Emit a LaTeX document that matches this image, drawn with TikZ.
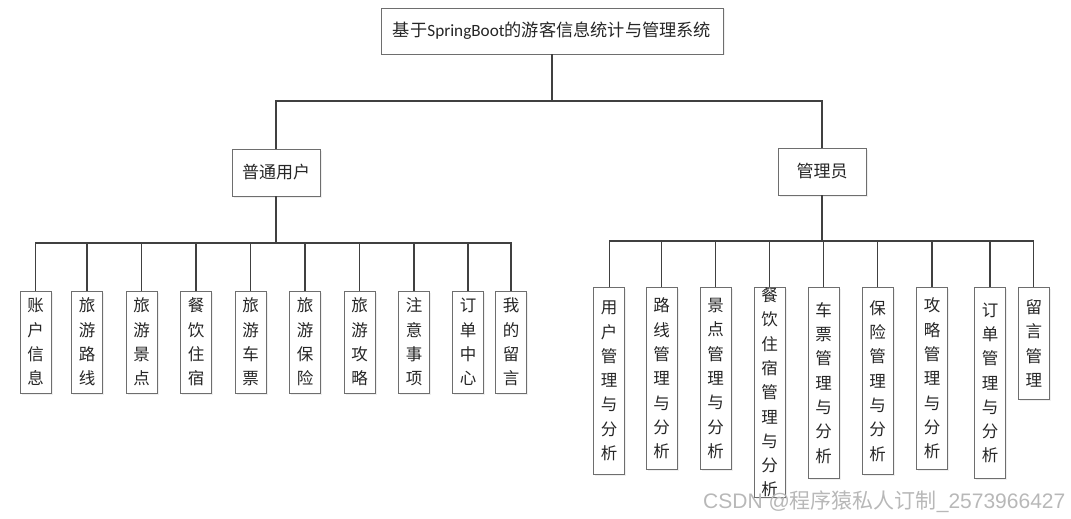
\documentclass[tikz,border=0pt]{standalone}
\usepackage{fontspec}
\usepackage{tikz}
\usepackage{xcolor}
\usetikzlibrary{shadows}
\newfontfamily\cjk{Noto Sans CJK SC}
\newfontfamily\calibri{Carlito}
\newfontfamily\arial{Liberation Sans}
\definecolor{linegray}{HTML}{404040}
\definecolor{boxgray}{HTML}{6E6E6E}
\tikzset{
  box/.style={draw=boxgray, line width=0.9pt, fill=white, inner sep=0pt, text=black!85,
    drop shadow={shadow xshift=1.5pt, shadow yshift=-1.5pt, fill=black!12}},
  hbox/.style={box, minimum width=88pt, minimum height=47pt, font=\cjk\fontsize{17}{20}\selectfont},
  vbox/.style={box, minimum width=31pt, align=center, font=\cjk\fontsize{16.5}{24.3}\selectfont},
  link/.style={draw=linegray, line width=1.2pt}
}
\begin{document}
\begin{tikzpicture}[x=1pt,y=-1pt]
\useasboundingbox (0,0) rectangle (1071,519);

% top level
\node[box, minimum width=342pt, minimum height=46pt, font=\cjk\fontsize{17.2}{20}\selectfont] (root) at (552,31) {基于{\calibri SpringBoot}的游客信息统计与管理系统};
\node[hbox] (user) at (276,172.5) {普通用户};
\node[hbox] (admin) at (822,171.5) {管理员};
\coordinate (bus) at (552,101);
\draw[link] (root.south) -- (bus);
\draw[link] (user.north) |- (bus) -| (admin.north);

% user functions
\node[vbox, minimum height=102pt] (u1) at (35.5,342) {账\\户\\信\\息};
\node[vbox, minimum height=102pt] (u2) at (87,342) {旅\\游\\路\\线};
\node[vbox, minimum height=102pt] (u3) at (141.5,342) {旅\\游\\景\\点};
\node[vbox, minimum height=102pt] (u4) at (196,342) {餐\\饮\\住\\宿};
\node[vbox, minimum height=102pt] (u5) at (250.5,342) {旅\\游\\车\\票};
\node[vbox, minimum height=102pt] (u6) at (305,342) {旅\\游\\保\\险};
\node[vbox, minimum height=102pt] (u7) at (359.5,342) {旅\\游\\攻\\略};
\node[vbox, minimum height=102pt] (u8) at (414,342) {注\\意\\事\\项};
\node[vbox, minimum height=102pt] (u9) at (468,342) {订\\单\\中\\心};
\node[vbox, minimum height=102pt] (u10) at (511,342) {我\\的\\留\\言};
\coordinate (ubus) at (276,243);
\draw[link] (user.south) -- (ubus);
\draw[link] (u1.north) |- (ubus) -| (u10.north);
\draw[link] (u2.north) -- (u2.north |- ubus);
\draw[link] (u3.north) -- (u3.north |- ubus);
\draw[link] (u4.north) -- (u4.north |- ubus);
\draw[link] (u5.north) -- (u5.north |- ubus);
\draw[link] (u6.north) -- (u6.north |- ubus);
\draw[link] (u7.north) -- (u7.north |- ubus);
\draw[link] (u8.north) -- (u8.north |- ubus);
\draw[link] (u9.north) -- (u9.north |- ubus);

% admin functions
\node[vbox, anchor=north, minimum height=187pt] (a1) at (609.2,287) {用\\户\\管\\理\\与\\分\\析};
\node[vbox, anchor=north, minimum height=182pt] (a2) at (661.5,287) {路\\线\\管\\理\\与\\分\\析};
\node[vbox, anchor=north, minimum height=182pt] (a3) at (715.7,287) {景\\点\\管\\理\\与\\分\\析};
\node[vbox, anchor=north, minimum height=210pt] (a4) at (769.7,287) {餐\\饮\\住\\宿\\管\\理\\与\\分\\析};
\node[vbox, anchor=north, minimum height=191pt] (a5) at (823.5,287) {车\\票\\管\\理\\与\\分\\析};
\node[vbox, anchor=north, minimum height=187pt] (a6) at (877.7,287) {保\\险\\管\\理\\与\\分\\析};
\node[vbox, anchor=north, minimum height=182pt] (a7) at (932,287) {攻\\略\\管\\理\\与\\分\\析};
\node[vbox, anchor=north, minimum height=191pt] (a8) at (990,287) {订\\单\\管\\理\\与\\分\\析};
\node[vbox, anchor=north, minimum height=112pt] (a9) at (1033.8,287) {留\\言\\管\\理};
\coordinate (abus) at (822,241);
\draw[link] (admin.south) -- (abus);
\draw[link] (a1.north) |- (abus) -| (a9.north);
\draw[link] (a2.north) -- (a2.north |- abus);
\draw[link] (a3.north) -- (a3.north |- abus);
\draw[link] (a4.north) -- (a4.north |- abus);
\draw[link] (a5.north) -- (a5.north |- abus);
\draw[link] (a6.north) -- (a6.north |- abus);
\draw[link] (a7.north) -- (a7.north |- abus);
\draw[link] (a8.north) -- (a8.north |- abus);

% watermark
\node[anchor=base west, inner sep=0pt, text=black!28, font=\fontsize{21}{24}\selectfont] (mark) at (703,508) {{\arial CSDN @}{\cjk 程序猿私人订制}{\arial \_2573966427}};
\end{tikzpicture}
\end{document}
